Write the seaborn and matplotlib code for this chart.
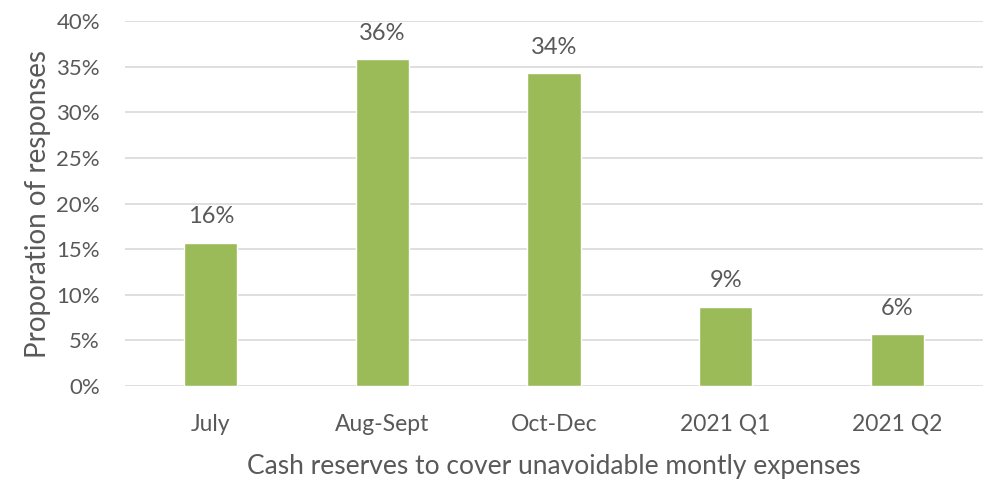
import matplotlib
matplotlib.use("Agg")
import matplotlib.pyplot as plt
import seaborn as sns
import pandas as pd
from matplotlib.ticker import PercentFormatter

categories = ["July", "Aug-Sept", "Oct-Dec", "2021 Q1", "2021 Q2"]
values = [15.7, 35.8, 34.3, 8.7, 5.7]
labels = ["16%", "36%", "34%", "9%", "6%"]
yticks = [0, 5, 10, 15, 20, 25, 30, 35, 40]

sns.set_theme(style="white")
plt.rcParams['font.family'] = ['Lato', 'DejaVu Sans']

df = pd.DataFrame({"period": categories, "value": values})
text_color = "#595959"

fig = plt.figure(figsize=(9.97, 4.83), dpi=100)
ax = fig.add_axes([0.1254, 0.2008, 0.986 - 0.1254, 0.9565 - 0.2008])
sns.barplot(data=df, x="period", y="value", color="#9BBB59", saturation=1,
            width=0.31, ax=ax, zorder=3)
ax.set_xlim(-0.5, 4.5)
ax.set_ylim(0, 40)
ax.set_yticks(yticks)
ax.yaxis.set_major_formatter(PercentFormatter(decimals=0))
ax.grid(axis="y", color="#D9D9D9", linewidth=1.2, zorder=0)
ax.set_axisbelow(True)
for s in ax.spines.values():
    s.set_visible(False)
ax.tick_params(axis="both", length=0, colors=text_color)
ax.tick_params(axis="y", pad=18, labelsize=16)
ax.tick_params(axis="x", pad=20, labelsize=16.5)
for c in ax.containers:
    ax.bar_label(c, labels=labels, padding=11, fontsize=17, color=text_color)
ax.set_xlabel("Cash reserves to cover unavoidable montly expenses", fontsize=19,
              color=text_color, labelpad=14)
ax.set_ylabel("Proporation of responses", fontsize=20, color=text_color, labelpad=4)
fig.savefig("out.png", dpi=100)
